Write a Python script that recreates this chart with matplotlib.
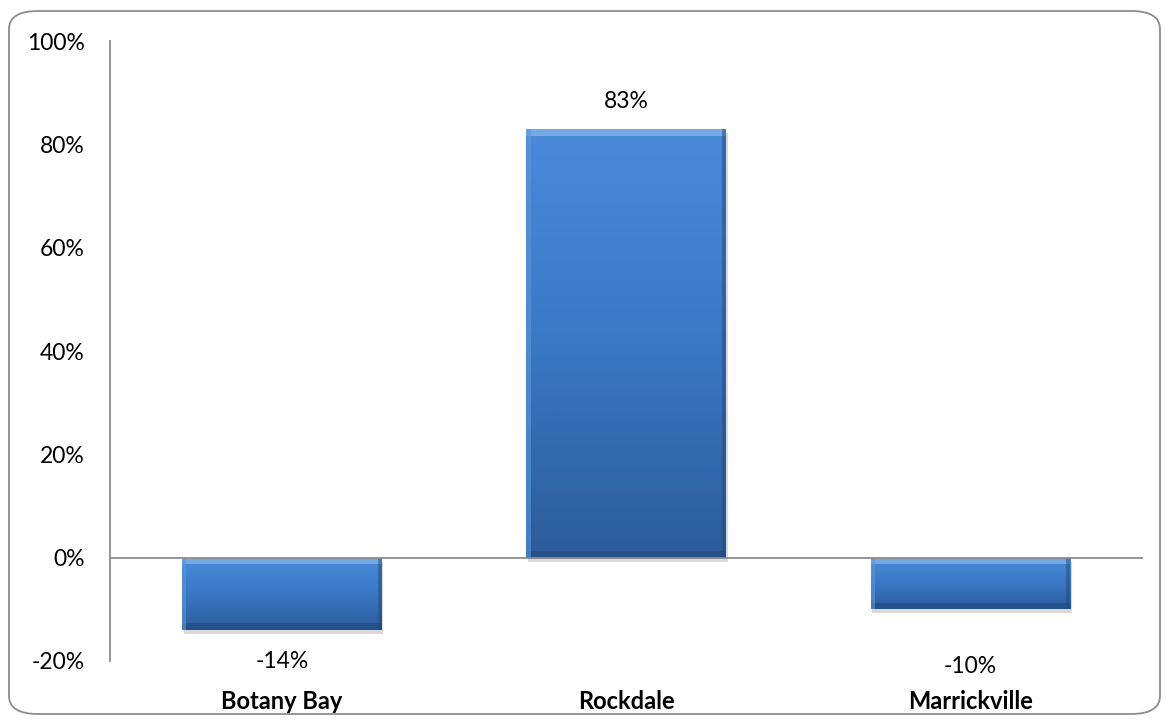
import numpy as np
import matplotlib.pyplot as plt
from matplotlib.patches import FancyBboxPatch, Rectangle
from matplotlib.colors import LinearSegmentedColormap
from matplotlib.ticker import FuncFormatter

councils = ['Botany Bay', 'Rockdale', 'Marrickville']
change = [-14, 83, -10]
# vertical nudge (points) for each value label
label_offsets = [-23, 20, -41]

plt.rcParams['font.family'] = ['Lato', 'DejaVu Sans']

fig = plt.figure(figsize=(11.66, 7.22), dpi=100)
ax = fig.add_axes([0.0943, 0.0845, 0.8857, 0.8587])

# rounded chart frame
frame = FancyBboxPatch((9 / 1166, 8 / 722), 1151 / 1166, 703 / 722,
                       boxstyle='round,pad=0,rounding_size=0.025',
                       transform=fig.transFigure, fill=False,
                       edgecolor='#8c8c8c', linewidth=1.3, zorder=0)
fig.patches.append(frame)

x = np.arange(len(councils))
width = 0.58
bars = ax.bar(x, change, width=width, color='#3f7fcc', zorder=2)

grad = LinearSegmentedColormap.from_list('bevel', ['#2c5c9b', '#3a78c4', '#4a8ad8'])
for b, v in zip(bars, change):
    x0, w = b.get_x(), b.get_width()
    lo, hi = min(0, v), max(0, v)
    # drop shadow
    sh = Rectangle((x0 + 0.004, lo - 0.8), w, hi - lo, color='#000000',
                   alpha=0.15, zorder=1, linewidth=0)
    ax.add_patch(sh)
    # top-to-bottom gradient
    img = ax.imshow(np.linspace(1, 0, 100).reshape(-1, 1), cmap=grad,
                    extent=[x0, x0 + w, lo, hi], aspect='auto', zorder=3,
                    interpolation='bicubic')
    img.set_clip_path(b)
    # bevel: light top strip, darker sides/bottom
    bev = 0.012
    bh = 1.3
    ax.add_patch(Rectangle((x0, hi - bh), w, bh, color='#7fb2ea', alpha=0.8,
                           zorder=4, linewidth=0))
    ax.add_patch(Rectangle((x0, lo), w, bh, color='#1f4a80', alpha=0.6,
                           zorder=4, linewidth=0))
    ax.add_patch(Rectangle((x0, lo), bev, hi - lo, color='#5d97dc', alpha=0.6,
                           zorder=4, linewidth=0))
    ax.add_patch(Rectangle((x0 + w - bev, lo), bev, hi - lo, color='#1f4a80',
                           alpha=0.5, zorder=4, linewidth=0))

for xi, v, off in zip(x, change, label_offsets):
    ax.annotate(f'{v}%', xy=(xi, v), xytext=(0, off), textcoords='offset points',
                ha='center', va='center', fontsize=16.5, color='#000000')

ax.set_xlim(-0.5, 2.5)
ax.set_ylim(-20, 100)
ax.set_yticks(range(-20, 101, 20))
ax.yaxis.set_major_formatter(FuncFormatter(lambda v, p: f'{v:.0f}%'))
ax.tick_params(axis='y', length=0, pad=18, labelsize=16.5)
ax.set_xticks(x)
ax.set_xticklabels(councils, fontsize=17, fontweight='bold')
ax.tick_params(axis='x', length=0, pad=21)

for s in ['top', 'right', 'bottom']:
    ax.spines[s].set_visible(False)
ax.spines['left'].set_color('#8c8c8c')
ax.spines['left'].set_linewidth(1.3)
ax.axhline(0, color='#8c8c8c', linewidth=1.3, zorder=5)

fig.savefig('out.png', dpi=100)
